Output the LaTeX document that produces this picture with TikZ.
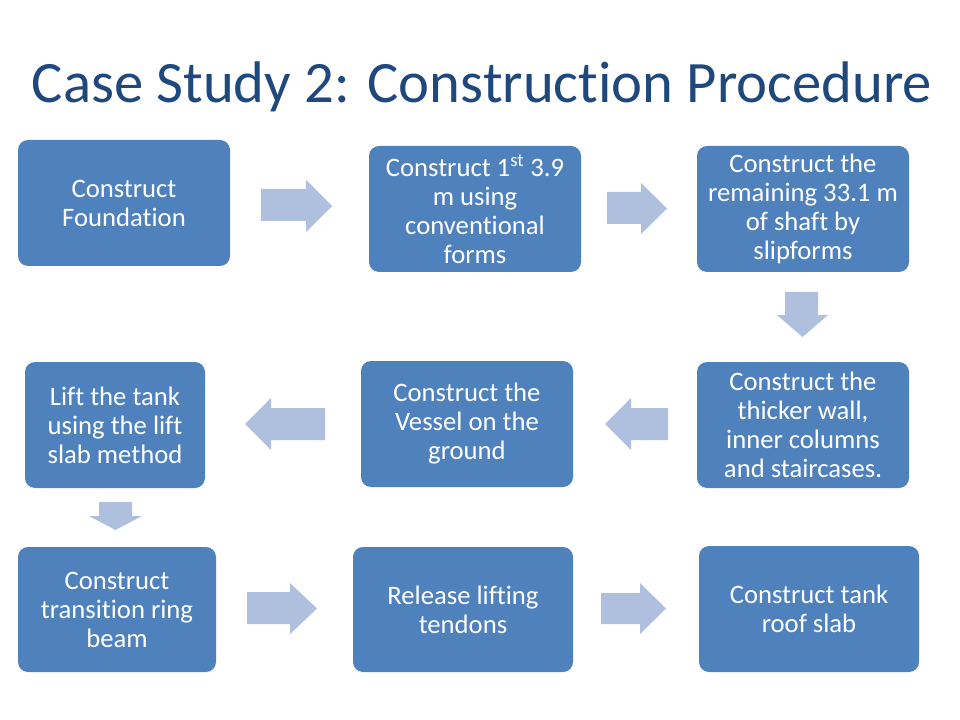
\documentclass[tikz,border=0pt]{standalone}
\usepackage{fontspec}
\setmainfont[Ligatures={NoCommon,NoContextual}]{Carlito}
\definecolor{boxblue}{HTML}{4F81BD}
\definecolor{arrowblue}{RGB}{175,192,222}
\definecolor{titleblue}{HTML}{1F497D}
\tikzset{
  stepbox/.style={draw=none, fill=boxblue, rounded corners=7.5pt, text=white,
    align=center, font=\fontsize{20}{21.75}\selectfont, inner sep=0pt,
    minimum height=126*0.75pt},
  flowarrow/.style={fill=arrowblue, draw=none},
}
\begin{document}
\begin{tikzpicture}[x=0.75pt, y=-0.75pt]
\useasboundingbox (0,0) rectangle (960,720);
\fill[white] (0,0) rectangle (960,720);

\node[anchor=base, text=titleblue, font=\fontsize{44}{52}\selectfont] (title) at (482,103) {Case Study 2: Construction Procedure};

\node[stepbox, minimum width=212*0.75pt] (b1) at (124,203) {Construct\\Foundation};
\node[stepbox, minimum width=212*0.75pt] (b2) at (475,209) {Construct 1\textsuperscript{st} 3.9\\m using\\conventional\\forms};
\node[stepbox, minimum width=212*0.75pt] (b3) at (803,209) {Construct the\\remaining 33.1 m\\of shaft by\\slipforms};
\node[stepbox, minimum width=212*0.75pt] (b4) at (803,425) {Construct the\\thicker wall,\\inner columns\\and staircases.};
\node[stepbox, minimum width=212*0.75pt] (b5) at (467,424) {Construct the\\Vessel on the\\ground};
\node[stepbox, minimum width=180*0.75pt] (b6) at (115,425) {Lift the tank\\using the lift\\slab method};
\node[stepbox, minimum width=198*0.75pt, minimum height=125*0.75pt] (b7) at (117,609.5) {Construct\\transition ring\\beam};
\node[stepbox, minimum width=220*0.75pt, minimum height=125*0.75pt] (b8) at (463,609.5) {Release lifting\\tendons};
\node[stepbox, minimum width=220*0.75pt] (b9) at (809,609) {Construct tank\\roof slab};

% block arrows
\fill[flowarrow] (261,189) -- (306,189) -- (306,180) -- (332,206) -- (306,232) -- (306,221) -- (261,221) -- cycle;
\fill[flowarrow] (607,192) -- (641,192) -- (641,183) -- (667,208.5) -- (641,234) -- (641,224) -- (607,224) -- cycle;
\fill[flowarrow] (785,292) -- (818,292) -- (818,315) -- (828,315) -- (802.5,337) -- (777,315) -- (785,315) -- cycle;
\fill[flowarrow] (668,408) -- (631,408) -- (631,398) -- (605,424) -- (631,450) -- (631,440) -- (668,440) -- cycle;
\fill[flowarrow] (325,408) -- (271,408) -- (271,398) -- (245,424) -- (271,450) -- (271,440) -- (325,440) -- cycle;
\fill[flowarrow] (99,502) -- (132,502) -- (132,516) -- (142,516) -- (115.5,530) -- (89,516) -- (99,516) -- cycle;
\fill[flowarrow] (247,592) -- (290,592) -- (290,583) -- (317,608.5) -- (290,634) -- (290,624) -- (247,624) -- cycle;
\fill[flowarrow] (601,593) -- (640,593) -- (640,583) -- (666,608.5) -- (640,634) -- (640,624) -- (601,624) -- cycle;
\end{tikzpicture}
\end{document}
